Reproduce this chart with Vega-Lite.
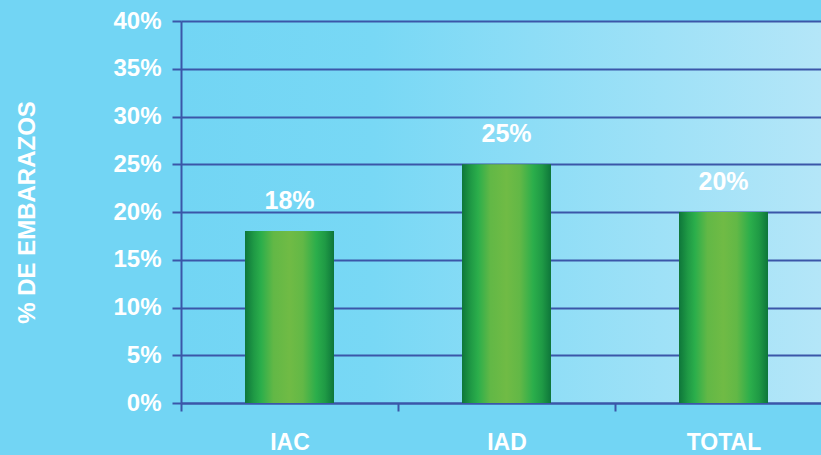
{
  "$schema": "https://vega.github.io/schema/vega-lite/v6.json",
  "width": 640,
  "height": 382,
  "autosize": "none",
  "padding": {"left": 181, "top": 21, "right": 0, "bottom": 52},
  "background": "#72d5f4",
  "config": {
    "view": {
      "stroke": null,
      "fill": {"gradient": "linear", "x1": 0, "x2": 1, "y1": 0, "y2": 0,
        "stops": [{"offset": 0, "color": "#72d5f4"}, {"offset": 0.3, "color": "#78d8f5"}, {"offset": 1, "color": "#b4e6f8"}]}
    },
    "font": "Liberation Sans"
  },
  "data": {
    "values": [
      {"grupo": "IAC", "pct": 0.18},
      {"grupo": "IAD", "pct": 0.25},
      {"grupo": "TOTAL", "pct": 0.20}
    ]
  },
  "encoding": {
    "x": {
      "field": "grupo", "type": "nominal", "sort": null,
      "scale": {"paddingInner": 0, "paddingOuter": 0, "range": [0, 651]},
      "axis": {
        "title": null, "labelAngle": 0, "tickBand": "extent", "grid": false,
        "domainColor": "#3b56a8", "domainWidth": 2,
        "tickColor": "#3b56a8", "tickWidth": 2, "tickSize": 8,
        "labelColor": "white", "labelFontSize": 23, "labelFontWeight": "bold",
        "labelPadding": 20, "labelFont": "Liberation Sans"
      }
    },
    "y": {
      "field": "pct", "type": "quantitative",
      "scale": {"domain": [0, 0.4], "nice": false},
      "axis": {
        "values": [0, 0.05, 0.1, 0.15, 0.2, 0.25, 0.3, 0.35, 0.4],
        "format": ".0%",
        "title": "% DE EMBARAZOS",
        "titleColor": "white", "titleFontSize": 24, "titleFontWeight": "bold", "titleFont": "Liberation Sans",
        "titleAngle": -90, "titleX": -147, "titleY": 191, "titleAlign": "center", "titleBaseline": "alphabetic",
        "grid": true, "gridColor": "#3b56a8", "gridWidth": 2, "gridOpacity": 1,
        "domainColor": "#3b56a8", "domainWidth": 2,
        "tickColor": "#3b56a8", "tickWidth": 2, "tickSize": 9,
        "labelColor": "white", "labelFontSize": 24, "labelFontWeight": "bold", "labelFont": "Liberation Sans",
        "labelPadding": 11
      }
    }
  },
  "layer": [
    {
      "mark": {
        "type": "bar", "size": 89,
        "fill": {"gradient": "linear", "x1": 0, "x2": 1, "y1": 0, "y2": 0,
          "stops": [
            {"offset": 0, "color": "#0e763a"},
            {"offset": 0.1, "color": "#1f9a45"},
            {"offset": 0.18, "color": "#2bae4b"},
            {"offset": 0.32, "color": "#62b846"},
            {"offset": 0.5, "color": "#70bb45"},
            {"offset": 0.65, "color": "#62b846"},
            {"offset": 0.8, "color": "#2bae4b"},
            {"offset": 0.9, "color": "#1f9a45"},
            {"offset": 1, "color": "#0e763a"}
          ]}
      }
    },
    {
      "mark": {"type": "text", "baseline": "alphabetic", "dy": -22, "fill": "white", "fontSize": 25, "fontWeight": "bold", "font": "Liberation Sans"},
      "encoding": {"text": {"field": "pct", "type": "quantitative", "format": ".0%"}}
    }
  ]
}
